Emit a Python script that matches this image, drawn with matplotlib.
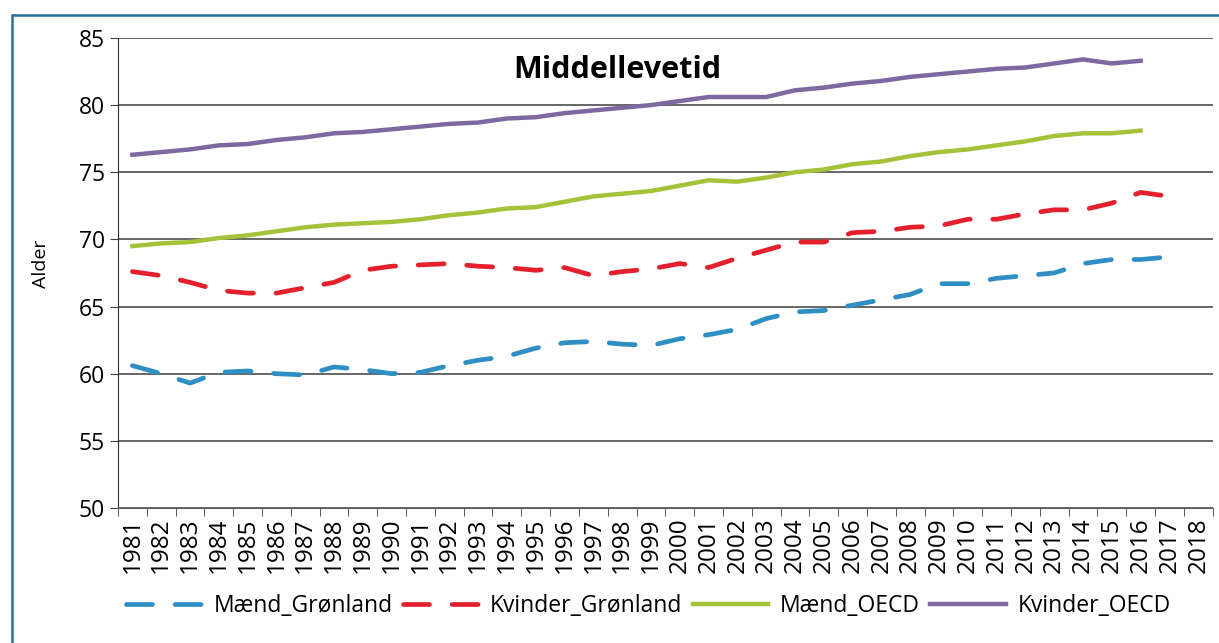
import numpy as np
import matplotlib.pyplot as plt
from matplotlib.patches import Rectangle

nan = np.nan
years = list(range(1981, 2019))

maend_gronland = [60.6, 60.0, 59.3, 60.1, 60.2, 60.0, 59.9, 60.5, 60.3, 60.0,
                  60.1, 60.6, 61.0, 61.3, 61.9, 62.3, 62.4, 62.2, 62.1, 62.6,
                  62.9, 63.3, 64.1, 64.6, 64.7, 65.1, 65.5, 65.9, 66.7, 66.7,
                  67.1, 67.3, 67.5, 68.2, 68.5, 68.5, 68.7, nan]
kvinder_gronland = [67.6, 67.3, 66.8, 66.2, 66.0, 66.0, 66.4, 66.8, 67.7, 68.0,
                    68.1, 68.2, 68.0, 67.9, 67.7, 67.9, 67.3, 67.6, 67.8, 68.2,
                    67.9, 68.6, 69.2, 69.8, 69.8, 70.5, 70.6, 70.9, 71.0, 71.5,
                    71.5, 71.9, 72.2, 72.2, 72.7, 73.5, 73.2, nan]
maend_oecd = [69.5, 69.7, 69.8, 70.1, 70.3, 70.6, 70.9, 71.1, 71.2, 71.3,
              71.5, 71.8, 72.0, 72.3, 72.4, 72.8, 73.2, 73.4, 73.6, 74.0,
              74.4, 74.3, 74.6, 75.0, 75.2, 75.6, 75.8, 76.2, 76.5, 76.7,
              77.0, 77.3, 77.7, 77.9, 77.9, 78.1, nan, nan]
kvinder_oecd = [76.3, 76.5, 76.7, 77.0, 77.1, 77.4, 77.6, 77.9, 78.0, 78.2,
                78.4, 78.6, 78.7, 79.0, 79.1, 79.4, 79.6, 79.8, 80.0, 80.3,
                80.6, 80.6, 80.6, 81.1, 81.3, 81.6, 81.8, 82.1, 82.3, 82.5,
                82.7, 82.8, 83.1, 83.4, 83.1, 83.3, nan, nan]

plt.rcParams['font.family'] = ['Open Sans', 'DejaVu Sans']

fig = plt.figure(figsize=(12.19, 6.43), dpi=100)
ax = fig.add_axes([0.0968, 0.21, 0.898, 0.731])

x = np.arange(len(years))
ax.plot(x, maend_gronland, color='#2f8fc4', lw=3.4, dashes=(5.5, 4.8),
        label='Mænd_Grønland', dash_capstyle='round')
ax.plot(x, kvinder_gronland, color='#e3202c', lw=3.4, dashes=(5.5, 4.8),
        label='Kvinder_Grønland', dash_capstyle='round')
ax.plot(x, maend_oecd, color='#a6c23a', lw=3.2, label='Mænd_OECD')
ax.plot(x, kvinder_oecd, color='#7e68a0', lw=3.2, label='Kvinder_OECD')

ax.set_xlim(-0.5, len(years) - 0.5)
ax.set_ylim(50, 85)
ax.set_yticks(range(50, 90, 5))
ax.set_xticks(x)
ax.set_xticklabels([str(y) for y in years], rotation=90, fontsize=17.5)
ax.set_xticks(np.arange(-0.5, len(years), 1), minor=True)
ax.tick_params(axis='x', which='major', length=0, pad=7)
ax.tick_params(axis='x', which='minor', length=6, color='#404040')
ax.tick_params(axis='y', labelsize=16.5, length=6, color='#404040')
ax.yaxis.grid(True, color='#5a5a5a', lw=1.3)
ax.set_axisbelow(True)
for s in ['top', 'right']:
    ax.spines[s].set_visible(False)
ax.spines['left'].set_color('#303030')
ax.spines['bottom'].set_color('#606060')
ax.set_ylabel('Alder', fontsize=14)
ax.yaxis.set_label_coords(-0.062, 0.52)

ax.text(0.456, 0.932, 'Middellevetid', transform=ax.transAxes, ha='center',
        va='center', fontsize=22, fontweight='bold')

fig.legend(loc='center', bbox_to_anchor=(0.532, 0.058), ncol=4, frameon=False,
           fontsize=16.5, handlelength=3.3, columnspacing=0.45, handletextpad=0.5)

fig.patches.append(Rectangle((12 / 1219, -0.01), 1.0, 1 - 15 / 643 + 0.01,
                             transform=fig.transFigure, fill=False,
                             edgecolor='#2a6f9e', lw=1.8))

fig.savefig('out.png', dpi=100)
